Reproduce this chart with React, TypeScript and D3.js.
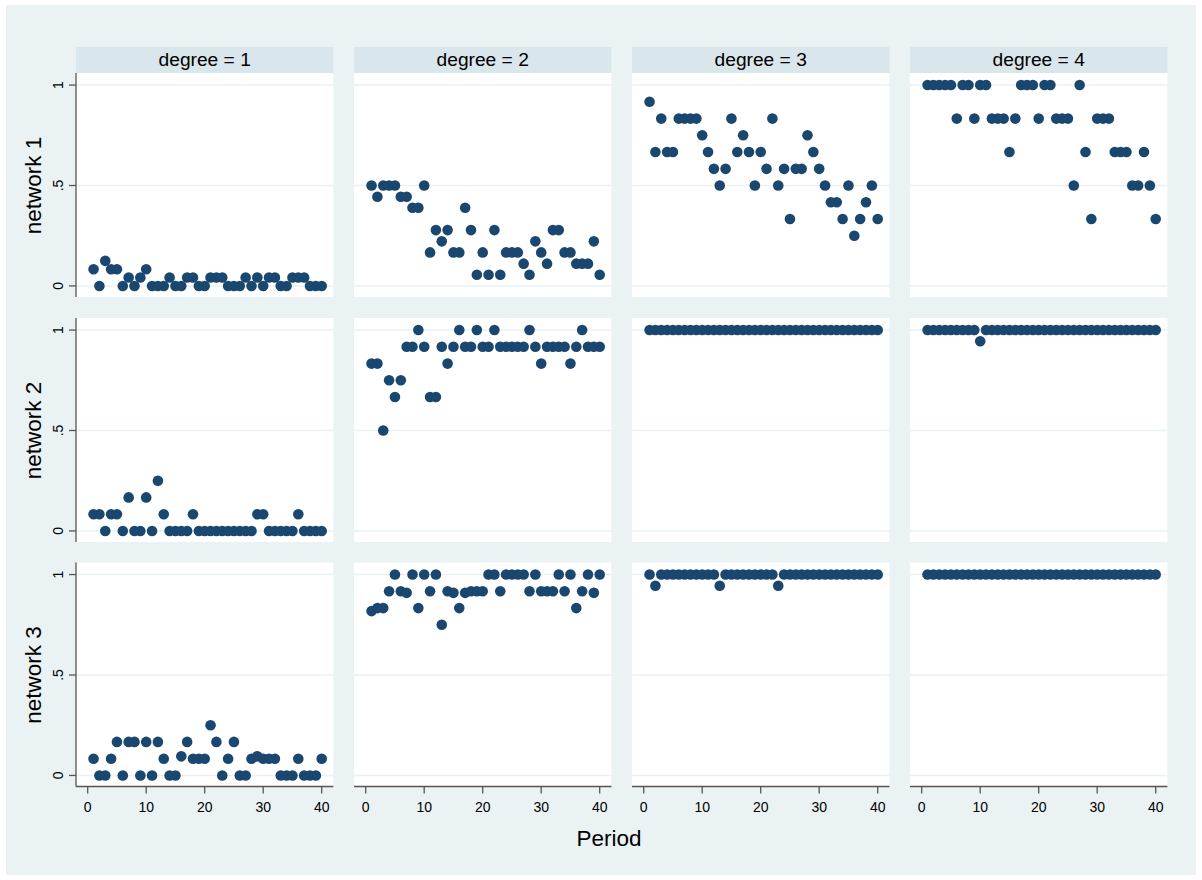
import React from "react";
import * as d3 from "d3";

const periods = [1,2,3,4,5,6,7,8,9,10,11,12,13,14,15,16,17,18,19,20,21,22,23,24,25,26,27,28,29,30,31,32,33,34,35,36,37,38,39,40];
const degrees = ["degree = 1", "degree = 2", "degree = 3", "degree = 4"];
const networks = ["network 1", "network 2", "network 3"];
const xTicks = [0, 10, 20, 30, 40];
const yTicks = [0, 0.5, 1];
const yTickLabels = ["0", ".5", "1"];

const n1d1 = [.083,0,.125,.083,.083,0,.042,0,.042,.083, 0,0,0,.042,0,0,.042,.042,0,0, .042,.042,.042,0,0,0,.042,0,.042,0, .042,.042,0,0,.042,.042,.042,0,0,0];
const n1d2 = [.5,.444,.5,.5,.5,.444,.444,.389,.389,.5, .167,.278,.222,.278,.167,.167,.389,.278,.056,.167, .056,.278,.056,.167,.167,.167,.111,.056,.222,.167, .111,.278,.278,.167,.167,.111,.111,.111,.222,.056];
const n1d3 = [.917,.667,.833,.667,.667,.833,.833,.833,.833,.75, .667,.583,.5,.583,.833,.667,.75,.667,.5,.667, .583,.833,.5,.583,.333,.583,.583,.75,.667,.583, .5,.417,.417,.333,.5,.25,.333,.417,.5,.333];
const n1d4 = [1,1,1,1,1,.833,1,1,.833,1, 1,.833,.833,.833,.667,.833,1,1,1,.833, 1,1,.833,.833,.833,.5,1,.667,.333,.833, .833,.833,.667,.667,.667,.5,.5,.667,.5,.333];
const n2d1 = [.083,.083,0,.083,.083,0,.167,0,0,.167, 0,.25,.083,0,0,0,0,.083,0,0, 0,0,0,0,0,0,0,0,.083,.083, 0,0,0,0,0,.083,0,0,0,0];
const n2d2 = [.833,.833,.5,.75,.667,.75,.917,.917,1,.917, .667,.667,.917,.833,.917,1,.917,.917,1,.917, .917,1,.917,.917,.917,.917,.917,1,.917,.833, .917,.917,.917,.917,.833,.917,1,.917,.917,.917];
const n2d3 = [1,1,1,1,1,1,1,1,1,1, 1,1,1,1,1,1,1,1,1,1, 1,1,1,1,1,1,1,1,1,1, 1,1,1,1,1,1,1,1,1,1];
const n2d4 = [1,1,1,1,1,1,1,1,1,.944, 1,1,1,1,1,1,1,1,1,1, 1,1,1,1,1,1,1,1,1,1, 1,1,1,1,1,1,1,1,1,1];
const n3d1 = [.083,0,0,.083,.167,0,.167,.167,0,.167, 0,.167,.083,0,0,.095,.167,.083,.083,.083, .25,.167,0,.083,.167,0,0,.083,.095,.083, .083,.083,0,0,0,.083,0,0,0,.083];
const n3d2 = [.818,.833,.833,.917,1,.917,.909,1,.833,1, .917,1,.75,.917,.909,.833,.909,.917,.917,.917, 1,1,.917,1,1,1,1,.917,1,.917, .917,.917,1,.917,1,.833,.917,1,.909,1];
const n3d3 = [1,.944,1,1,1,1,1,1,1,1, 1,1,.944,1,1,1,1,1,1,1, 1,1,.944,1,1,1,1,1,1,1, 1,1,1,1,1,1,1,1,1,1];
const n3d4 = [1,1,1,1,1,1,1,1,1,1, 1,1,1,1,1,1,1,1,1,1, 1,1,1,1,1,1,1,1,1,1, 1,1,1,1,1,1,1,1,1,1];

const grid = [
  [n1d1, n1d2, n1d3, n1d4],
  [n2d1, n2d2, n2d3, n2d4],
  [n3d1, n3d2, n3d3, n3d4],
];

const W = 1202, H = 880;
const colLeft = [76, 354, 632, 910];
const rowTop = [73, 318, 562.5];
const PW = 257.4, PH = 224;
const FONT = "'Liberation Sans', Arial, Helvetica, sans-serif";
const MARK = "#1a476f";
const BG = "#eaf2f3";
const STRIP = "#d9e6eb";
const AXIS = "#555";

export default function App() {
  const x = d3.scaleLinear().domain([-2, 42]).range([0, PW]);
  const y = d3.scaleLinear().domain([-0.055, 1.06]).range([PH, 0]);
  return (
    <svg width={W} height={H} style={{ position: "absolute", left: 0, top: 0, display: "block", background: "#fff" }} fontFamily={FONT}>
      <rect x={6} y={5} width={1190} height={870} fill={BG} />
      {degrees.map((d, c) => (
        <g key={"s" + c} transform={`translate(${colLeft[c]},47)`}>
          <rect width={PW} height={26} fill={STRIP} />
          <text x={PW / 2} y={18.5} textAnchor="middle" fontSize={19.2} fill="#000">{d}</text>
        </g>
      ))}
      {networks.map((nm, r) => (
        <g key={"r" + r}>
          {degrees.map((_, c) => {
            const vals = grid[r][c];
            return (
              <g key={"p" + c} transform={`translate(${colLeft[c]},${rowTop[r]})`}>
                <rect width={PW} height={PH} fill="#fff" />
                {yTicks.map((t) => (
                  <line key={t} x1={0} x2={PW} y1={y(t)} y2={y(t)} stroke={BG} strokeWidth={1.5} />
                ))}
                {c === 0 && (
                  <g>
                    <line x1={0} x2={0} y1={0} y2={PH} stroke={AXIS} strokeWidth={1.3} />
                    {yTicks.map((t, i) => (
                      <g key={t}>
                        <line x1={-7} x2={0} y1={y(t)} y2={y(t)} stroke={AXIS} strokeWidth={1.3} />
                        <text transform={`translate(-13,${y(t)}) rotate(-90)`} textAnchor="middle" fontSize={14} fill="#000">{yTickLabels[i]}</text>
                      </g>
                    ))}
                  </g>
                )}
                {r === networks.length - 1 && (
                  <g>
                    <line x1={0} x2={PW} y1={PH} y2={PH} stroke={AXIS} strokeWidth={1.3} />
                    {xTicks.map((t) => (
                      <g key={t}>
                        <line x1={x(t)} x2={x(t)} y1={PH} y2={PH + 7} stroke={AXIS} strokeWidth={1.3} />
                        <text x={x(t)} y={PH + 25} textAnchor="middle" fontSize={14} fill="#000">{t}</text>
                      </g>
                    ))}
                  </g>
                )}
                {vals.map((v, i) => (
                  <circle key={i} cx={x(periods[i])} cy={y(v)} r={5.3} fill={MARK} />
                ))}
              </g>
            );
          })}
          <text transform={`translate(40.5,${rowTop[r] + y(0.5)}) rotate(-90)`} textAnchor="middle" fontSize={22.5} fill="#000">{nm}</text>
        </g>
      ))}
      <text x={609} y={846} textAnchor="middle" fontSize={22.5} fill="#000">Period</text>
    </svg>
  );
}
